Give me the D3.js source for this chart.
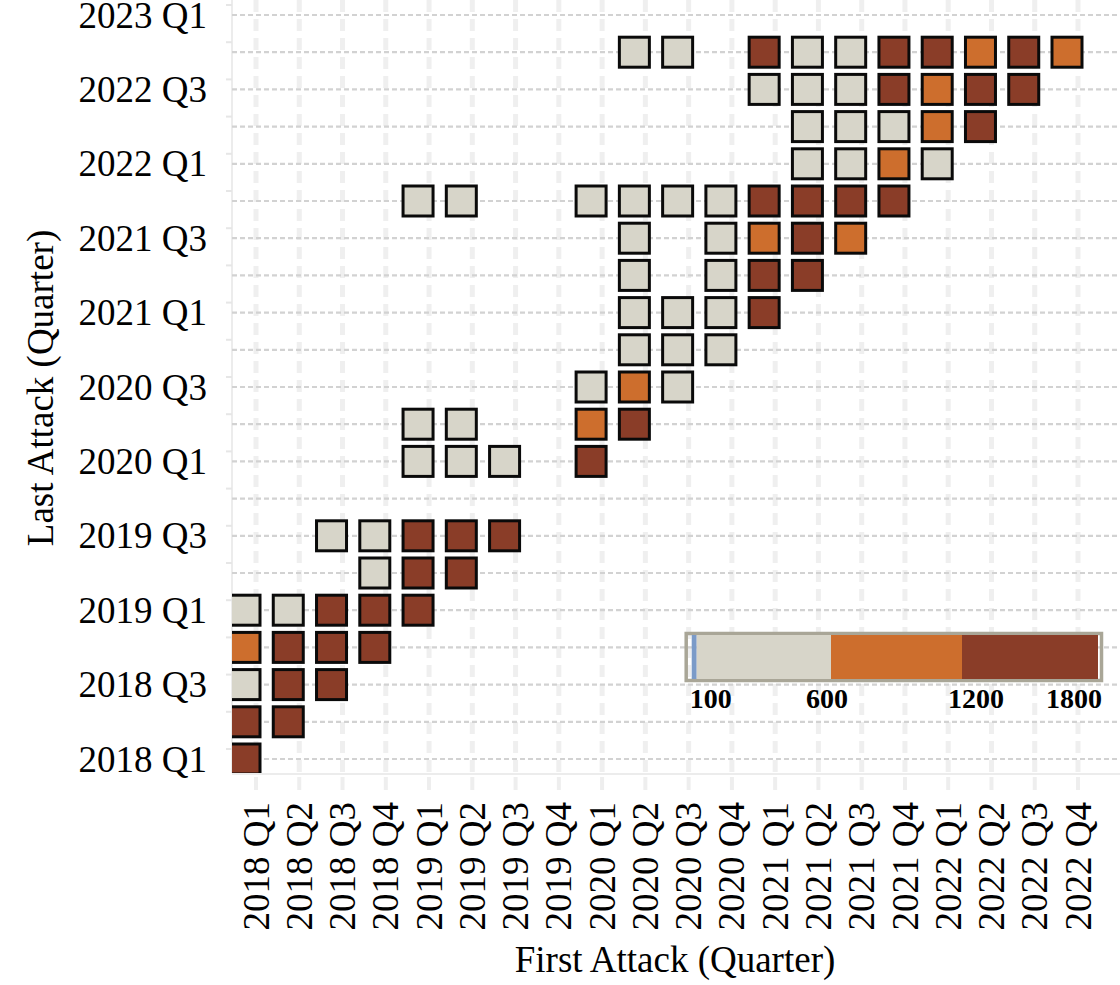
<!DOCTYPE html>
<html>
<head>
<meta charset="utf-8">
<script src="https://cdn.jsdelivr.net/npm/d3@7"></script>
<style>
  html, body { margin: 0; padding: 0; background: #fff; }
  svg { display: block; }
  text { font-family: "Liberation Serif", "Times New Roman", serif; fill: #000; }
</style>
</head>
<body>
<svg id="chart" width="1120" height="985"></svg>
<script>
// ---------- DATA ----------
const firstQuarters = ["2018 Q1","2018 Q2","2018 Q3","2018 Q4","2019 Q1","2019 Q2","2019 Q3","2019 Q4",
  "2020 Q1","2020 Q2","2020 Q3","2020 Q4","2021 Q1","2021 Q2","2021 Q3","2021 Q4",
  "2022 Q1","2022 Q2","2022 Q3","2022 Q4"];
const lastQuarters = ["2018 Q1","2018 Q2","2018 Q3","2018 Q4","2019 Q1","2019 Q2","2019 Q3","2019 Q4",
  "2020 Q1","2020 Q2","2020 Q3","2020 Q4","2021 Q1","2021 Q2","2021 Q3","2021 Q4",
  "2022 Q1","2022 Q2","2022 Q3","2022 Q4","2023 Q1"];
const yTickLabels = ["2018 Q1","2018 Q3","2019 Q1","2019 Q3","2020 Q1","2020 Q3","2021 Q1","2021 Q3","2022 Q1","2022 Q3","2023 Q1"];

const cellLast = [
  "2022 Q4","2022 Q4","2022 Q4","2022 Q4","2022 Q4","2022 Q4","2022 Q4","2022 Q4","2022 Q4","2022 Q4",
  "2022 Q3","2022 Q3","2022 Q3","2022 Q3","2022 Q3","2022 Q3","2022 Q3",
  "2022 Q2","2022 Q2","2022 Q2","2022 Q2","2022 Q2",
  "2022 Q1","2022 Q1","2022 Q1","2022 Q1",
  "2021 Q4","2021 Q4","2021 Q4","2021 Q4","2021 Q4","2021 Q4","2021 Q4","2021 Q4","2021 Q4","2021 Q4",
  "2021 Q3","2021 Q3","2021 Q3","2021 Q3","2021 Q3",
  "2021 Q2","2021 Q2","2021 Q2","2021 Q2",
  "2021 Q1","2021 Q1","2021 Q1","2021 Q1",
  "2020 Q4","2020 Q4","2020 Q4",
  "2020 Q3","2020 Q3","2020 Q3",
  "2020 Q2","2020 Q2","2020 Q2","2020 Q2",
  "2020 Q1","2020 Q1","2020 Q1","2020 Q1",
  "2019 Q3","2019 Q3","2019 Q3","2019 Q3","2019 Q3",
  "2019 Q2","2019 Q2","2019 Q2",
  "2019 Q1","2019 Q1","2019 Q1","2019 Q1","2019 Q1",
  "2018 Q4","2018 Q4","2018 Q4","2018 Q4",
  "2018 Q3","2018 Q3","2018 Q3",
  "2018 Q2","2018 Q2",
  "2018 Q1"
];
const cellFirst = [
  "2020 Q2","2020 Q3","2021 Q1","2021 Q2","2021 Q3","2021 Q4","2022 Q1","2022 Q2","2022 Q3","2022 Q4",
  "2021 Q1","2021 Q2","2021 Q3","2021 Q4","2022 Q1","2022 Q2","2022 Q3",
  "2021 Q2","2021 Q3","2021 Q4","2022 Q1","2022 Q2",
  "2021 Q2","2021 Q3","2021 Q4","2022 Q1",
  "2019 Q1","2019 Q2","2020 Q1","2020 Q2","2020 Q3","2020 Q4","2021 Q1","2021 Q2","2021 Q3","2021 Q4",
  "2020 Q2","2020 Q4","2021 Q1","2021 Q2","2021 Q3",
  "2020 Q2","2020 Q4","2021 Q1","2021 Q2",
  "2020 Q2","2020 Q3","2020 Q4","2021 Q1",
  "2020 Q2","2020 Q3","2020 Q4",
  "2020 Q1","2020 Q2","2020 Q3",
  "2019 Q1","2019 Q2","2020 Q1","2020 Q2",
  "2019 Q1","2019 Q2","2019 Q3","2020 Q1",
  "2018 Q3","2018 Q4","2019 Q1","2019 Q2","2019 Q3",
  "2018 Q4","2019 Q1","2019 Q2",
  "2018 Q1","2018 Q2","2018 Q3","2018 Q4","2019 Q1",
  "2018 Q1","2018 Q2","2018 Q3","2018 Q4",
  "2018 Q1","2018 Q2","2018 Q3",
  "2018 Q1","2018 Q2",
  "2018 Q1"
];
const cellCount = [
  420, 380, 1450, 510, 460, 1380, 1520, 940, 1610, 870,
  330, 480, 540, 1290, 1050, 1470, 1690,
  290, 410, 560, 980, 1560,
  350, 470, 820, 520,
  240, 310, 280, 390, 430, 500, 1340, 1480, 1530, 1420,
  360, 450, 910, 1370, 1010,
  320, 470, 1260, 1590,
  400, 340, 530, 1640,
  270, 440, 580,
  300, 760, 490,
  260, 370, 1120, 1710,
  410, 330, 220, 1330,
  450, 380, 1410, 1550, 1280,
  520, 1360, 1490,
  310, 470, 1310, 1440, 1580,
  860, 1390, 1510, 1660,
  430, 1350, 1470,
  1620, 1400,
  1750
];

const colorBreaks = [100, 600, 1200];
const colorValues = ["#7b9bc8", "#d7d5c9", "#cd6e2d", "#8a3d28"];
const legendTicks = [100, 600, 1200, 1800];

// ---------- LAYOUT ----------
const plot = { left: 232, right: 1120, top: 0, bottom: 773 };
const cellSize = 30;
const cellShift = -11;   // tiles sit slightly left of the tick positions
const fontSize = 37;

const svg = d3.select("#chart");

const x = d3.scalePoint().domain(firstQuarters).range([256, 1078]);
const y = d3.scalePoint().domain(lastQuarters).range([759, 15]);
const color = d3.scaleThreshold().domain(colorBreaks).range(colorValues);

const cells = cellCount.map((v, i) => ({ first: cellFirst[i], last: cellLast[i], value: v }));

// clip
svg.append("defs").append("clipPath").attr("id", "plotClip")
  .append("rect")
  .attr("x", plot.left).attr("y", plot.top)
  .attr("width", plot.right - plot.left).attr("height", plot.bottom - plot.top);

// plot borders (light)
svg.append("line")
  .attr("x1", plot.left).attr("x2", plot.left).attr("y1", plot.top).attr("y2", plot.bottom)
  .attr("stroke", "#ececec").attr("stroke-width", 2);
svg.append("line")
  .attr("x1", plot.left).attr("x2", plot.right).attr("y1", plot.bottom + 1).attr("y2", plot.bottom + 1)
  .attr("stroke", "#ececec").attr("stroke-width", 2);

// vertical light gridlines
svg.append("g").selectAll("line").data(firstQuarters).join("line")
  .attr("x1", d => x(d)).attr("x2", d => x(d))
  .attr("y1", plot.top).attr("y2", plot.bottom)
  .attr("stroke", "#efefef").attr("stroke-width", 5)
  .attr("stroke-dasharray", "12,7");

// horizontal dashed gridlines
svg.append("g").selectAll("line").data(lastQuarters).join("line")
  .attr("x1", plot.left).attr("x2", plot.right)
  .attr("y1", d => y(d)).attr("y2", d => y(d))
  .attr("stroke", "#d2d2d2").attr("stroke-width", 2.2)
  .attr("stroke-dasharray", "5,3");

// small tick stubs
svg.append("g").selectAll("line").data(lastQuarters).join("line")
  .attr("x1", plot.left - 6).attr("x2", plot.left)
  .attr("y1", d => y(d) - 10).attr("y2", d => y(d) - 10)
  .attr("stroke", "#e6e6e6").attr("stroke-width", 2);
svg.append("g").selectAll("line").data(firstQuarters).join("line")
  .attr("x1", d => x(d)).attr("x2", d => x(d))
  .attr("y1", plot.bottom + 4).attr("y2", plot.bottom + 17)
  .attr("stroke", "#eeeeee").attr("stroke-width", 4);

// tiles
svg.append("g").attr("clip-path", "url(#plotClip)")
  .selectAll("rect").data(cells).join("rect")
  .attr("x", d => x(d.first) + cellShift - cellSize / 2)
  .attr("y", d => y(d.last) - cellSize / 2)
  .attr("width", cellSize).attr("height", cellSize)
  .attr("fill", d => color(d.value))
  .attr("stroke", "#0a0a0a").attr("stroke-width", 3);

// y tick labels
svg.append("g").selectAll("text").data(yTickLabels).join("text")
  .attr("x", 207).attr("y", d => y(d))
  .attr("dy", "0.34em")
  .attr("text-anchor", "end")
  .attr("font-size", fontSize)
  .text(d => d);

// x tick labels (rotated)
svg.append("g").selectAll("text").data(firstQuarters).join("text")
  .attr("transform", d => `translate(${x(d)},802) rotate(-90)`)
  .attr("dy", "0.34em")
  .attr("text-anchor", "end")
  .attr("font-size", fontSize)
  .text(d => d);

// axis titles
svg.append("text")
  .attr("x", 675).attr("y", 972)
  .attr("text-anchor", "middle")
  .attr("font-size", fontSize)
  .text("First Attack (Quarter)");
svg.append("text")
  .attr("transform", "translate(53,388) rotate(-90)")
  .attr("text-anchor", "middle")
  .attr("font-size", fontSize)
  .text("Last Attack (Quarter)");

// ---------- LEGEND ----------
const legendX = d3.scaleLinear().domain(legendTicks).range([696.7, 831, 962, 1098]);
const lg = svg.append("g");
const barTop = 635, barH = 44;
lg.append("rect")
  .attr("x", legendX(100) - 5 - 5.5).attr("y", barTop - 1.5)
  .attr("width", legendX(1800) - legendX(100) + 5 + 9).attr("height", barH + 3)
  .attr("fill", "none").attr("stroke", "#a9a697").attr("stroke-width", 3.5);
lg.append("rect")
  .attr("x", legendX(100) - 5).attr("y", barTop)
  .attr("width", 5).attr("height", barH)
  .attr("fill", colorValues[0]);
const segs = [[100, 600], [600, 1200], [1200, 1800]];
lg.selectAll("rect.seg").data(segs).join("rect").attr("class", "seg")
  .attr("x", d => legendX(d[0])).attr("y", barTop)
  .attr("width", d => legendX(d[1]) - legendX(d[0])).attr("height", barH)
  .attr("fill", d => color(d[0]));
const tickNudge = [-7, -4, 14, 4];
const tickAnchor = ["start", "middle", "middle", "end"];
lg.selectAll("text").data(legendTicks).join("text")
  .attr("x", (d, i) => legendX(d) + tickNudge[i])
  .attr("y", 708)
  .attr("text-anchor", (d, i) => tickAnchor[i])
  .attr("font-size", 28)
  .attr("font-weight", "bold")
  .text(d => d);
</script>
</body>
</html>
